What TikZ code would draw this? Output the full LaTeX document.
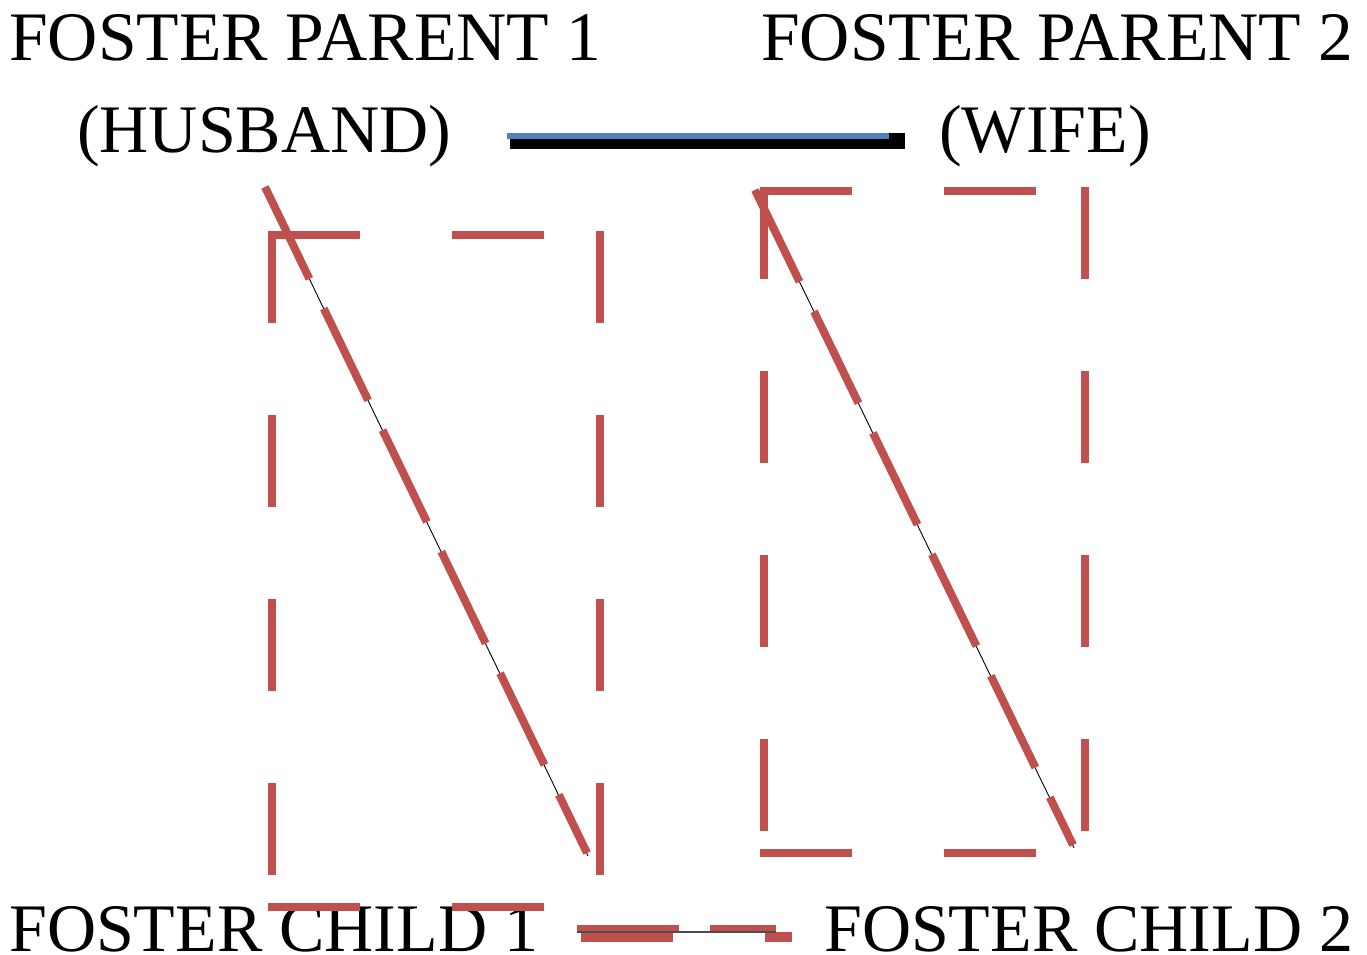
\documentclass[tikz,border=0pt]{standalone}
\usepackage{fontspec}
\setmainfont{Liberation Serif}
\usetikzlibrary{calc}
\definecolor{fosterred}{RGB}{192,80,77}
\definecolor{fosterblue}{RGB}{79,129,189}
\tikzset{
	person/.style={inner sep=0pt, anchor=base west, font=\fontsize{68}{80}\selectfont},
	wideperson/.style={person, font=\fontsize{69.5}{80}\selectfont},
	boxline/.style={draw=fosterred, line width=7.5pt, dash pattern=on 92pt off 92pt,
			shorten <=-3.75pt, shorten >=-3.75pt},
	careline/.style={draw=fosterred, line width=8pt, dash pattern=on 102pt off 33pt},
	thinline/.style={draw=black, line width=0.9pt}
}

\begin{document}
\begin{tikzpicture}[x=1pt,y=-1pt]
            \useasboundingbox (0,0) rectangle (1367,954);
            \node[wideperson] (p1) at (9,60) {FOSTER PARENT 1};
            \node[person] (husband) at (77,152) {(HUSBAND)};
            \node[wideperson] (p2) at (761,60) {FOSTER PARENT 2};
            \node[person] (wife) at (939,152) {(WIFE)};
            \node[person] (c1) at (9,951) {FOSTER CHILD 1};
            \node[person] (c2) at (824,951) {FOSTER CHILD 2};
            \coordinate (husband-r) at (510,141);
            \coordinate (wife-l) at (905,141);
            \coordinate (husband-rb) at (507,136);
            \coordinate (wife-lb) at (889,136);
            \coordinate (c1-r) at (577,932);
            \coordinate (c2-l) at (776,932);
            \coordinate (husband-d) at (265,187);
            \coordinate (c1-u) at (587,853);
            \coordinate (wife-d) at (755,190);
            \coordinate (c2-u) at (1073,845);
            \draw[black, line width=16pt] (husband-r) -- (wife-l);
            \draw[fosterblue, line width=6pt] (husband-rb) -- (wife-lb);
            \draw[boxline] (272,235) -- (600,235);
            \draw[boxline] (272,907) -- (600,907);
            \draw[boxline] (272,235) -- (272,907);
            \draw[boxline] (600,235) -- (600,907);
            \draw[boxline] (764,191) -- (1085,191);
            \draw[boxline] (764,853) -- (1085,853);
            \draw[boxline] (764,191) -- (764,853);
            \draw[boxline] (1085,191) -- (1085,853);
            \draw[thinline] (husband-d) -- ($(c1-u)+(1,3)$);
            \draw[careline] (husband-d) -- (c1-u);
            \draw[thinline] (wife-d) -- ($(c2-u)+(1,3)$);
            \draw[careline] (wife-d) -- (c2-u);
            \draw[fosterred, line width=10pt, dash pattern=on 92pt off 92pt] ($(c1-r)+(4,5)$) -- ($(c2-l)+(16,5)$);
            \draw[fosterred, line width=7pt, dash pattern=on 102pt off 31pt] ($(c1-r)+(0,-3.5)$) -- ($(c2-l)+(0,-3.5)$);
            \draw[gray!60!black, line width=1.2pt] (c1-r) -- (c2-l);
        \end{tikzpicture}
\end{document}
